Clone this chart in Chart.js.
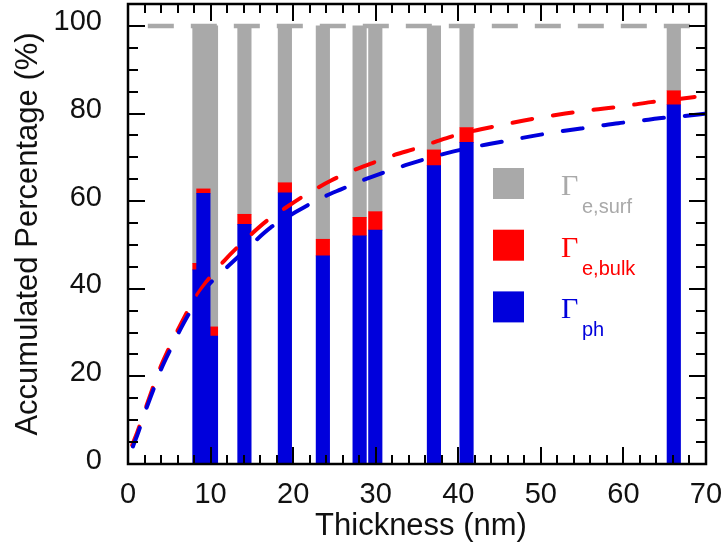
<!DOCTYPE html>
<html>
<head>
<meta charset="utf-8">
<title>Accumulated percentage vs thickness</title>
<script src="https://cdn.jsdelivr.net/npm/chart.js@4.4.1/dist/chart.umd.min.js"></script>
<style>
  html, body { margin: 0; padding: 0; background: #fff; }
</style>
</head>
<body>
<canvas id="thickChart" width="725" height="548"></canvas>
<script>
"use strict";

// samples: film thickness (nm)
const thickness = [8.65, 9.13, 10.05, 14.1, 19.0, 23.6, 28.05, 29.95, 37.05, 41.0, 66.1];
// accumulated % : top of the phonon part, then top of the bulk-electron part
const phTop   = [44.3, 61.8, 29.2, 54.7, 61.9, 47.5, 52.1, 53.4, 68.1, 73.4, 82.0];
const bulkTop = [45.8, 62.8, 31.3, 57.0, 64.2, 51.3, 56.3, 57.6, 71.7, 76.8, 85.2];
const surfTop = [100, 100, 100, 100, 100, 100, 100, 100, 100, 100, 100];

// model curves (dashed)
const redX = [0.5, 1.15, 2.0, 2.97, 4.0, 5.15, 6.5, 7.77, 9.5, 11.7, 14.0, 16.8, 19.5, 22.0, 24.6, 27.1,
  29.6, 32.35, 35.0, 37.45, 40.0, 42.75, 45.3, 47.8, 50.3, 52.95, 55.6, 58.2, 60.8, 63.3, 65.8, 68.4, 70];
const redY = [4.3, 7.4, 12.0, 17.2, 22.4, 27.2, 32.3, 36.8, 41.6, 46.5, 50.8, 55.5, 59.0, 62.0, 64.7, 66.9,
  68.7, 70.6, 72.1, 73.7, 75.2, 76.4, 77.4, 78.35, 79.2, 80.0, 80.7, 81.25, 81.9, 82.6, 83.1, 83.7, 84.1];
const blueX = [0.6, 1.2, 2.0, 3.0, 4.0, 5.2, 6.5, 7.8, 9.5, 11.7, 14.0, 17.3, 20.3, 23.3, 25.8, 28.2,
  30.9, 33.6, 36.0, 38.5, 41.2, 43.9, 46.5, 49.1, 51.6, 54.2, 56.8, 59.4, 61.9, 64.3, 67.2, 70];
const blueY = [4.0, 7.0, 11.5, 16.6, 21.6, 26.4, 31.3, 35.6, 40.3, 44.4, 48.4, 54.0, 57.5, 60.6, 62.7, 64.6,
  66.5, 68.2, 69.6, 70.9, 72.1, 73.1, 74.0, 74.9, 75.7, 76.4, 77.1, 77.8, 78.3, 78.9, 79.4, 80.0];
// 100 % reference line
const limitX = [2.4, 70];
const limitY = [100, 100];

// axes
const xTicks = [0, 10, 20, 30, 40, 50, 60, 70];
const yTicks = [0, 20, 40, 60, 80, 100];
const xMinorStep = 2;
const yMinorStep = 5;

// legend entries: Γ with subscript
const legendSubs = ['e,surf', 'e,bulk', 'ph'];
const legendColors = ['#a9a9a9', '#ff0000', '#0000dc'];

const GRAY = '#a9a9a9', RED = '#ff0000', BLUE = '#0000dc';
const SANS = "'Liberation Sans', Arial, Helvetica, sans-serif";
const SERIF = "'Liberation Serif', 'Times New Roman', serif";

const toPoints = (xs, ys) => xs.map((x, i) => ({ x: x, y: ys[i] }));

// floating bar segments from the accumulated values
const phBars = thickness.map((t, i) => ({ x: t, y: [0, phTop[i]] }));
const bulkBars = thickness.map((t, i) => ({ x: t, y: [phTop[i], bulkTop[i]] }));
const surfBars = thickness.map((t, i) => ({ x: t, y: [bulkTop[i], surfTop[i]] }));

const barStyle = { type: 'bar', grouped: false, barThickness: 13.5, borderWidth: 0 };
const lineStyle = { type: 'line', fill: false, pointRadius: 0, borderWidth: 4,
  cubicInterpolationMode: 'monotone', borderCapStyle: 'round' };

// frame with inward ticks on all four sides
const frame = {
  id: 'frame',
  afterDatasetsDraw(chart) {
    const { ctx, chartArea: a, scales: { x, y } } = chart;
    ctx.save();
    ctx.strokeStyle = '#000';
    ctx.lineWidth = 2;
    ctx.beginPath();
    for (let v = x.min; v <= x.max; v += xMinorStep) {
      const px = Math.round(x.getPixelForValue(v));
      const len = v % 10 === 0 ? 17 : 9;
      ctx.moveTo(px, a.bottom); ctx.lineTo(px, a.bottom - len);
      ctx.moveTo(px, a.top); ctx.lineTo(px, a.top + len);
    }
    for (let v = 0; v <= y.max; v += yMinorStep) {
      const py = Math.round(y.getPixelForValue(v));
      const len = v % 20 === 0 ? 17 : 10;
      ctx.moveTo(a.left, py); ctx.lineTo(a.left + len, py);
      ctx.moveTo(a.right, py); ctx.lineTo(a.right - len, py);
    }
    ctx.stroke();
    ctx.lineWidth = 2.5;
    ctx.strokeRect(a.left, a.top, a.right - a.left, a.bottom - a.top);
    ctx.restore();
  }
};

// axis titles and the Γ legend
const labels = {
  id: 'labels',
  afterDraw(chart) {
    const { ctx, chartArea: a } = chart;
    ctx.save();
    ctx.fillStyle = '#111';
    ctx.textAlign = 'center';
    ctx.textBaseline = 'alphabetic';
    ctx.font = '31px ' + SANS;
    ctx.fillText('Thickness (nm)', (a.left + a.right) / 2 + 4, 535);

    ctx.translate(37, (a.top + a.bottom) / 2);
    ctx.rotate(-Math.PI / 2);
    ctx.fillText('Accumulated Percentage (%)', 0, 0);
    ctx.restore();

    ctx.save();
    legendSubs.forEach((sub, i) => {
      const top = 168 + i * 61.7;
      ctx.fillStyle = legendColors[i];
      ctx.fillRect(493, top, 31, 31);
      ctx.textAlign = 'left';
      ctx.textBaseline = 'alphabetic';
      ctx.font = '30px ' + SERIF;
      ctx.fillText('\u0393', 561, top + 27);
      ctx.font = '20px ' + SANS;
      ctx.fillText(sub, 582, top + 45);
    });
    ctx.restore();
  }
};

let ctx = document.getElementById('thickChart');

let thickChart = new Chart(ctx, {
  type: 'bar',
  data: {
    datasets: [
      { ...lineStyle, label: 'ph model', data: toPoints(blueX, blueY), borderColor: BLUE,
        borderDash: [20, 21], order: 0 },
      { ...lineStyle, label: 'ph + e,bulk model', data: toPoints(redX, redY), borderColor: RED,
        borderDash: [20, 21], order: 1 },
      { ...barStyle, label: 'Γph', data: phBars, backgroundColor: BLUE, order: 2 },
      { ...barStyle, label: 'Γe,bulk', data: bulkBars, backgroundColor: RED, order: 3 },
      { ...barStyle, label: 'Γe,surf', data: surfBars, backgroundColor: GRAY, order: 4 },
      { ...lineStyle, label: '100 %', data: toPoints(limitX, limitY), borderColor: GRAY,
        borderWidth: 4.5, borderCapStyle: 'butt', borderDash: [26, 17], cubicInterpolationMode: 'default',
        tension: 0, order: 5 }
    ]
  },
  options: {
    responsive: false,
    animation: false,
    devicePixelRatio: 1,
    layout: { padding: { top: 4, right: 19, left: 0, bottom: 0 } },
    plugins: {
      legend: { display: false },
      tooltip: { enabled: false }
    },
    scales: {
      x: {
        type: 'linear',
        min: 0,
        max: 70,
        offset: false,
        bounds: 'data',
        grid: { display: false, offset: false },
        border: { display: false },
        afterBuildTicks: s => { s.ticks = xTicks.map(v => ({ value: v })); },
        afterFit: s => { s.height = 84; s.paddingLeft = 0; s.paddingRight = 0; },
        ticks: { font: { size: 29, family: SANS }, color: '#111', padding: 6,
          maxRotation: 0, autoSkip: false }
      },
      y: {
        type: 'linear',
        min: 0,
        max: 105,
        bounds: 'data',
        grace: 0,
        grid: { display: false },
        border: { display: false },
        afterBuildTicks: s => { s.ticks = yTicks.map(v => ({ value: v })); },
        afterFit: s => { s.width = 128; s.paddingTop = 0; s.paddingBottom = 0; },
        ticks: { font: { size: 29, family: SANS }, color: '#111', padding: 18, labelOffset: -3.5 }
      }
    }
  },
  plugins: [frame, labels]
});
</script>
</body>
</html>
